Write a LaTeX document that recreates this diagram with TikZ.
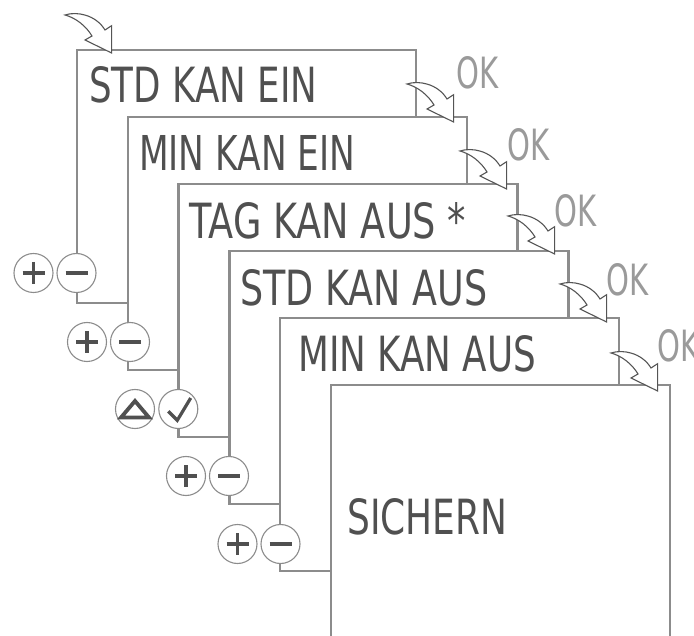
\documentclass[tikz,border=0pt]{standalone}
\usepackage{fontspec}
\setmainfont{DejaVu Sans}
\usepackage{graphicx}
\definecolor{frame}{HTML}{8C8C8C}
\definecolor{ink}{HTML}{505050}
\definecolor{okgray}{HTML}{9A9A9A}
\definecolor{btnline}{HTML}{8C8C8C}
\definecolor{arr}{HTML}{555555}
\begin{document}
\begin{tikzpicture}[x=1pt,y=-1pt,
  card/.style={draw=frame,line width=2.4pt,fill=white,minimum width=339pt,minimum height=253pt,anchor=north west,inner sep=0pt,outer sep=0pt},
  lcd/.style={anchor=north west,inner sep=0pt,text=ink},
  oklabel/.style={anchor=north west,inner sep=0pt,text=okgray},
  btn/.style={circle,draw=btnline,line width=1.1pt,fill=white,minimum size=39pt,inner sep=0pt},
  sym/.style={draw=ink,line width=3.8pt},
  swoosh/.pic={\draw[draw=arr,line width=1.1pt,fill=white,line join=miter]
     (0,0) .. controls (12,-4) and (31,0) .. (40,15) -- (46.6,10.7) -- (46.6,38) -- (20,25) -- (27,21)
     .. controls (21,11) and (11,3) .. cycle;}
]
\useasboundingbox (0,0) rectangle (694,636);
\clip (0,0) rectangle (694,636);

% cards
\node[card] (c1) at (77,50) {};
\node[lcd] (t1) at (89,66) {\resizebox{228pt}{36pt}{STD KAN EIN}};
\node[card] (c2) at (127.8,117) {};
\node[lcd] (t2) at (139,135) {\resizebox{216pt}{35pt}{MIN KAN EIN}};
\node[card] (c3) at (178.6,184) {};
\node[lcd] (t3) at (189,202) {\resizebox{277pt}{36pt}{TAG KAN AUS *}};
\node[card] (c4) at (229.4,251) {};
\node[lcd] (t4) at (240,269) {\resizebox{247pt}{36pt}{STD KAN AUS}};
\node[card] (c5) at (280.2,318) {};
\node[lcd] (t5) at (298,335) {\resizebox{238pt}{36pt}{MIN KAN AUS}};
\node[card] (c6) at (331,385) {};
\node[lcd] (t6) at (347,498) {\resizebox{160pt}{36pt}{SICHERN}};

% buttons
\node[btn] (p1) at (33.5,273) {};
\node[btn] (m1) at (76.5,273) {};
\node[btn] (p2) at (87,342) {};
\node[btn] (m2) at (130,342) {};
\node[btn] (u3) at (135,409) {};
\node[btn] (k3) at (178.3,409) {};
\node[btn] (p4) at (186,476) {};
\node[btn] (m4) at (229,476) {};
\node[btn] (p5) at (237.5,544) {};
\node[btn] (m5) at (280.5,544) {};

\foreach \b in {p1,p2,p4,p5}{
  \draw[sym] (\b.center) ++(-11,0) -- ++(22,0);
  \draw[sym] (\b.center) ++(0,-11) -- ++(0,22);
}
\foreach \b in {m1,m2,m4,m5}{
  \draw[sym] (\b.center) ++(-11,0) -- ++(22,0);
}
\draw[sym,line join=miter] (u3.center) ++(-14,8.5) -- ++(28,0) -- ++(-14,-16.5) -- cycle;
\draw[sym,line width=3.2pt,line join=miter] (k3.center) ++(-10,2.3) -- ++(9,9) -- ++(13.4,-22.3);

% OK labels
\node[oklabel] (ok1) at (456,56) {\resizebox{42pt}{32pt}{OK}};
\node[oklabel] (ok2) at (507,128) {\resizebox{42pt}{32pt}{OK}};
\node[oklabel] (ok3) at (554,194) {\resizebox{42pt}{32pt}{OK}};
\node[oklabel] (ok4) at (606,263) {\resizebox{42pt}{32pt}{OK}};
\node[oklabel] (ok5) at (657,329) {\resizebox{42pt}{32pt}{OK}};

% curved arrows
\pic at (65,15) {swoosh};
\pic at (407,84) {swoosh};
\pic at (460,151) {swoosh};
\pic at (508,216) {swoosh};
\pic at (560,284) {swoosh};
\pic at (611,353) {swoosh};
\end{tikzpicture}
\end{document}
